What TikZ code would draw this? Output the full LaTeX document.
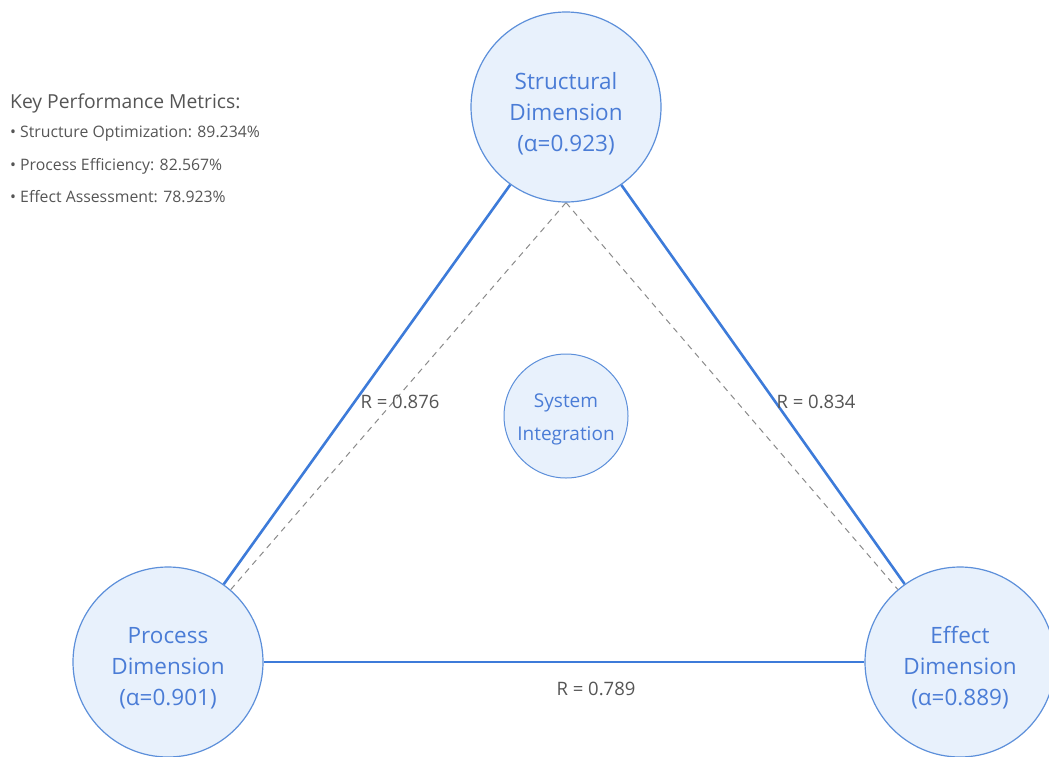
\documentclass[tikz,border=0pt]{standalone}
\usepackage{fontspec}
\setmainfont{Open Sans}
\usetikzlibrary{backgrounds}
\begin{document}
\begin{tikzpicture}[x=1pt,y=-1pt,
  dimcircle/.style={circle,draw=dimborder,line width=1.2pt,fill=dimfill,
    minimum size=190pt,inner sep=0pt},
  dimtextnode/.style={align=center,text=dimtext,inner sep=0pt,
    font=\fontsize{22.5}{31}\selectfont},
  hubcircle/.style={circle,draw=dimborder,line width=1pt,fill=dimfill,
    minimum size=124pt,inner sep=0pt},
  hubtextnode/.style={align=center,text=dimtext,inner sep=0pt,
    font=\fontsize{19}{33}\selectfont},
  link/.style={draw=linkblue,line width=2.6pt},
  guide/.style={draw=guidegray,line width=1pt,dash pattern=on 6pt off 5pt},
  rlabel/.style={text=labelgray,font=\fontsize{18.5}{20}\selectfont,inner sep=0pt},
  metric/.style={anchor=west,text=labelgray,inner sep=0pt,font=\fontsize{15.8}{17}\selectfont}
]
\definecolor{dimborder}{HTML}{5C8FDA}
\definecolor{dimfill}{HTML}{E8F1FC}
\definecolor{dimtext}{HTML}{4A7CD6}
\definecolor{linkblue}{HTML}{3D7BD9}
\definecolor{guidegray}{HTML}{8A8A8A}
\definecolor{labelgray}{HTML}{555555}
\useasboundingbox (0,0) rectangle (1049,756);
\clip (0,0) rectangle (1049,756);

% dimension circles and their captions
\node[dimcircle] (struct) at (566,107) {};
\node[dimcircle] (proc) at (168,662) {};
\node[dimcircle] (eff) at (960,662) {};
\node[hubcircle] (hub) at (566,416) {};
\node[dimtextnode] (structtext) at ([yshift=-7pt]struct.center) {Structural\\Dimension\\(α=0.923)};
\node[dimtextnode] (proctext) at ([yshift=-6pt]proc.center) {Process\\Dimension\\(α=0.901)};
\node[dimtextnode] (efftext) at ([yshift=-6pt]eff.center) {Effect\\Dimension\\(α=0.889)};
\node[hubtextnode] (hubtext) at ([yshift=-3pt]hub.center) {System\\Integration};

\begin{scope}[on background layer]
  % dashed guides from the top circle to the base circles
  \draw[guide] (struct.south) -- (proc);
  \draw[guide] (struct.south) -- (eff);
  % correlation links
  \draw[link] (struct) -- (proc);
  \draw[link] (struct) -- (eff);
  \draw[link] (proc) -- (eff);
\end{scope}

% correlation labels
\node[rlabel] (r1) at (400,402) {R = 0.876};
\node[rlabel] (r2) at (816,402) {R = 0.834};
\node[rlabel] (r3) at (596,689) {R = 0.789};

% metrics legend
\node[metric,font=\fontsize{19.3}{21}\selectfont] (mtitle) at (10,103) {Key Performance Metrics:};
\node[metric] (m1) at (10,134) {• Structure Optimization: 89.234\%};
\node[metric] (m2) at (10,166) {• Process Efficiency: 82.567\%};
\node[metric] (m3) at (10,197) {• Effect Assessment: 78.923\%};
\end{tikzpicture}
\end{document}
